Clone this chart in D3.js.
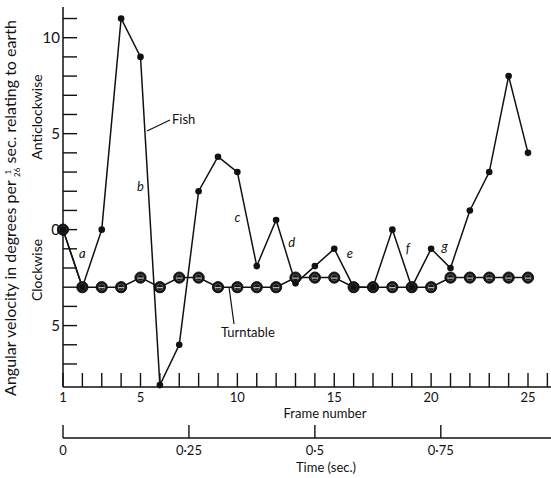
<!DOCTYPE html>
<html>
<head>
<meta charset="utf-8">
<script src="https://cdn.jsdelivr.net/npm/d3@7/dist/d3.min.js"></script>
<style>
  body { margin: 0; background: #fff; }
  svg { display: block; }
  text { font-family: "Lato", "Open Sans", sans-serif; fill: #111; }
</style>
</head>
<body>
<svg id="chart" width="551" height="478"></svg>
<script>
// ---- data ----
const frames = d3.range(1, 26);
const fish = [0, -3, 0, 11, 9, -8.1, -6, 2, 3.8, 3, -1.9, 0.5, -2.8, -1.9, -1, -3, -3, 0, -3, -1, -2, 1, 3, 8, 4];
const turntable = [0, -3, -3, -3, -2.5, -3, -2.5, -2.5, -3, -3, -3, -3, -2.5, -2.5, -2.5, -3, -3, -3, -3, -3, -2.5, -2.5, -2.5, -2.5, -2.5];
const yTickLabels = [[10, "10"], [5, "5"], [0, "0"], [-5, "5"]];
const frameTickLabels = [1, 5, 10, 15, 20, 25];
const timeTicks = [0, 0.25, 0.5, 0.75];
const timeTickLabels = ["0", "0·25", "0·5", "0·75"];
const segLabels = [["a", 2, -1.5], ["b", 5.0, 2.0], ["c", 10.0, 0.4], ["d", 12.8, -0.9], ["e", 15.8, -1.5], ["f", 18.8, -1.2], ["g", 20.7, -1.1]];

const svg = d3.select("#chart");
const x = d3.scaleLinear().domain([1, 25]).range([63, 528]);
const y = d3.scaleLinear().domain([-8.2, 11.6]).range([387, 7]);
const t = d3.scaleLinear().domain([0, 24 / 26]).range([63, 528]);

const ink = "#111";

// y axis line + ticks (to the right)
svg.append("line").attr("x1", 63).attr("x2", 63).attr("y1", y(11.6)).attr("y2", y(-8.2))
  .attr("stroke", ink).attr("stroke-width", 1.5);
svg.selectAll(".yt").data(d3.range(-7, 12)).join("line")
  .attr("x1", 63).attr("x2", 77).attr("y1", d => y(d)).attr("y2", d => y(d))
  .attr("stroke", ink).attr("stroke-width", 1.4);
svg.selectAll(".yl").data(yTickLabels).join("text")
  .attr("x", 60).attr("y", d => y(d[0]) + 5).attr("text-anchor", "end")
  .attr("font-size", 15).text(d => d[1]);

// frame axis (bottom)
const yb = y(-8.2);
svg.append("line").attr("x1", 63).attr("x2", 551).attr("y1", yb).attr("y2", yb)
  .attr("stroke", ink).attr("stroke-width", 1.5);
svg.selectAll(".xt").data(frames.concat([26])).join("line")
  .attr("x1", d => x(d)).attr("x2", d => x(d)).attr("y1", yb).attr("y2", yb - 14)
  .attr("stroke", ink).attr("stroke-width", 1.4);
svg.selectAll(".xl").data(frameTickLabels).join("text")
  .attr("x", d => x(d)).attr("y", 402).attr("text-anchor", "middle")
  .attr("font-size", 13).text(d => d);
svg.append("text").attr("x", 325).attr("y", 418).attr("text-anchor", "middle")
  .attr("font-size", 13).text("Frame number");

// time axis
const yt = 438;
svg.append("line").attr("x1", 63).attr("x2", 551).attr("y1", yt).attr("y2", yt)
  .attr("stroke", ink).attr("stroke-width", 1.5);
svg.selectAll(".tt").data(timeTicks).join("line")
  .attr("x1", d => t(d)).attr("x2", d => t(d)).attr("y1", yt).attr("y2", yt - 13)
  .attr("stroke", ink).attr("stroke-width", 1.4);
svg.selectAll(".tl").data(timeTicks).join("text")
  .attr("x", d => t(d)).attr("y", 455).attr("text-anchor", "middle")
  .attr("font-size", 13).text((d, i) => timeTickLabels[i]);
svg.append("text").attr("x", 326).attr("y", 472).attr("text-anchor", "middle")
  .attr("font-size", 13).text("Time (sec.)");

// lines
const line = d3.line().x((d, i) => x(frames[i])).y(d => y(d));
svg.append("path").attr("d", line(turntable)).attr("fill", "none")
  .attr("stroke", ink).attr("stroke-width", 1.5);
svg.append("path").attr("d", line(fish)).attr("fill", "none")
  .attr("stroke", ink).attr("stroke-width", 1.5);

// turntable markers
const tg = svg.selectAll(".tm").data(turntable).join("g")
  .attr("transform", (d, i) => `translate(${x(frames[i])},${y(d)})`);
tg.append("circle").attr("r", 5.6).attr("fill", "#151515").attr("stroke", ink).attr("stroke-width", 1);
tg.append("circle").attr("r", 3.2).attr("fill", "none").attr("stroke", "#666").attr("stroke-width", 0.8);
tg.append("line").attr("x1", -3).attr("x2", 3).attr("y1", 0.5).attr("y2", 0.5)
  .attr("stroke", "#ddd").attr("stroke-width", 1);

// fish markers
svg.selectAll(".fm").data(fish).join("circle")
  .attr("cx", (d, i) => x(frames[i])).attr("cy", d => y(d)).attr("r", 3.3).attr("fill", ink);

// segment letters
svg.selectAll(".sl").data(segLabels).join("text")
  .attr("x", d => x(d[1])).attr("y", d => y(d[2]))
  .attr("font-size", 13).attr("font-style", "italic").attr("text-anchor", "middle")
  .text(d => d[0]);

// series labels with leaders
svg.append("line").attr("x1", 147).attr("y1", 131).attr("x2", 170).attr("y2", 120)
  .attr("stroke", ink).attr("stroke-width", 1.2);
svg.append("text").attr("x", 172).attr("y", 124).attr("font-size", 13).text("Fish");
svg.append("line").attr("x1", 229).attr("y1", 287).attr("x2", 234).attr("y2", 324)
  .attr("stroke", ink).attr("stroke-width", 1.2);
svg.append("text").attr("x", 221).attr("y", 337).attr("font-size", 13).text("Turntable");

// y titles
svg.append("text").attr("transform", "translate(42,117) rotate(-90)")
  .attr("text-anchor", "middle").attr("font-size", 14).text("Anticlockwise");
svg.append("text").attr("transform", "translate(42,270) rotate(-90)")
  .attr("text-anchor", "middle").attr("font-size", 14).text("Clockwise");
const title = svg.append("text").attr("transform", "translate(16,208) rotate(-90)")
  .attr("text-anchor", "middle").attr("font-size", 16);
title.append("tspan").text("Angular velocity in degrees per ");
title.append("tspan").attr("font-size", 8).attr("dx", 2).attr("dy", -5).text("1");
title.append("tspan").attr("font-size", 8).attr("dx", -7).attr("dy", 9).text("26");
title.append("tspan").attr("dy", -4).text(" sec. relating to earth");
</script>
</body>
</html>
